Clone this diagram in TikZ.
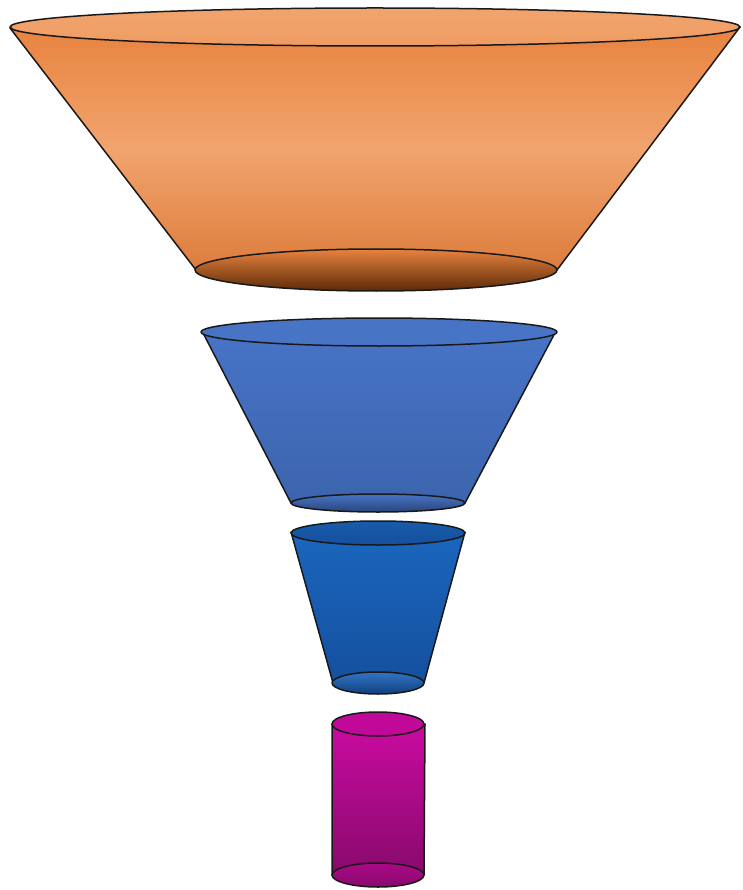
\documentclass[tikz,border=0pt]{standalone}
\usepackage{xcolor}
\usepackage{tikz}
\definecolor{funorange}{HTML}{E8833F}
\definecolor{funorangelt}{HTML}{F1A46E}
\definecolor{funorangedk}{HTML}{5C2A08}
\definecolor{funblue}{HTML}{4874C6}
\definecolor{funbluedk}{HTML}{3C64AE}
\definecolor{fundeep}{HTML}{1B66BE}
\definecolor{fundeepdk}{HTML}{14509E}
\definecolor{funpink}{HTML}{CA0AA0}
\definecolor{funpinkdk}{HTML}{880A6C}

\begin{document}
\begin{tikzpicture}[
  x=1pt, y=-1pt,
  rim/.style={draw=black!90, line width=1.5pt, line join=round},
  orangeside/.style={rim, top color=funorange, bottom color=funorange!95!black, middle color=funorangelt},
  orangetop/.style={rim, top color=funorangelt, bottom color=funorangelt!75!funorange},
  orangebot/.style={rim, top color=funorange, bottom color=funorangedk},
  blueside/.style={rim, top color=funblue, bottom color=funbluedk},
  bluetop/.style={rim, fill=funblue},
  bluebot/.style={rim, top color=funblue, bottom color=funbluedk!70!black},
  deepside/.style={rim, top color=fundeep, bottom color=fundeepdk},
  deeptop/.style={rim, top color=fundeep!90!black, bottom color=fundeepdk},
  deepbot/.style={rim, top color=fundeep!90!white, bottom color=fundeepdk!80!black},
  pinkside/.style={rim, top color=funpink, bottom color=funpinkdk},
  pinktop/.style={rim, fill=funpink!95!black},
  pinkbot/.style={rim, top color=funpink!85!black, bottom color=funpinkdk}
]
\useasboundingbox (0,0) rectangle (743,890);
% orange bowl
\path[orangeside] (10,28) -- (196,270) -- (557,270) -- (740,27) -- cycle;
\path[orangebot] (376,270) ellipse [x radius=181, y radius=21];
\path[orangetop] (375,27) ellipse [x radius=365, y radius=19];
% first blue cup
\path[blueside] (202,331) -- (291,503) -- (465,503) -- (556,331) -- cycle;
\path[bluebot] (378,503) ellipse [x radius=87, y radius=9];
\path[bluetop] (379,332) ellipse [x radius=178, y radius=14];
% second blue cup
\path[deepside] (291,532) -- (333,683) -- (424,683) -- (465,532) -- cycle;
\path[deepbot] (378,683) ellipse [x radius=46, y radius=11];
\path[deeptop] (378,533) ellipse [x radius=87, y radius=12];
% pink tube
\path[pinkside] (332,724) -- (332,875) -- (424,875) -- (425,724) -- cycle;
\path[pinkbot] (378,875) ellipse [x radius=46, y radius=12];
\path[pinktop] (378,724) ellipse [x radius=46, y radius=12];
\end{tikzpicture}
\end{document}
